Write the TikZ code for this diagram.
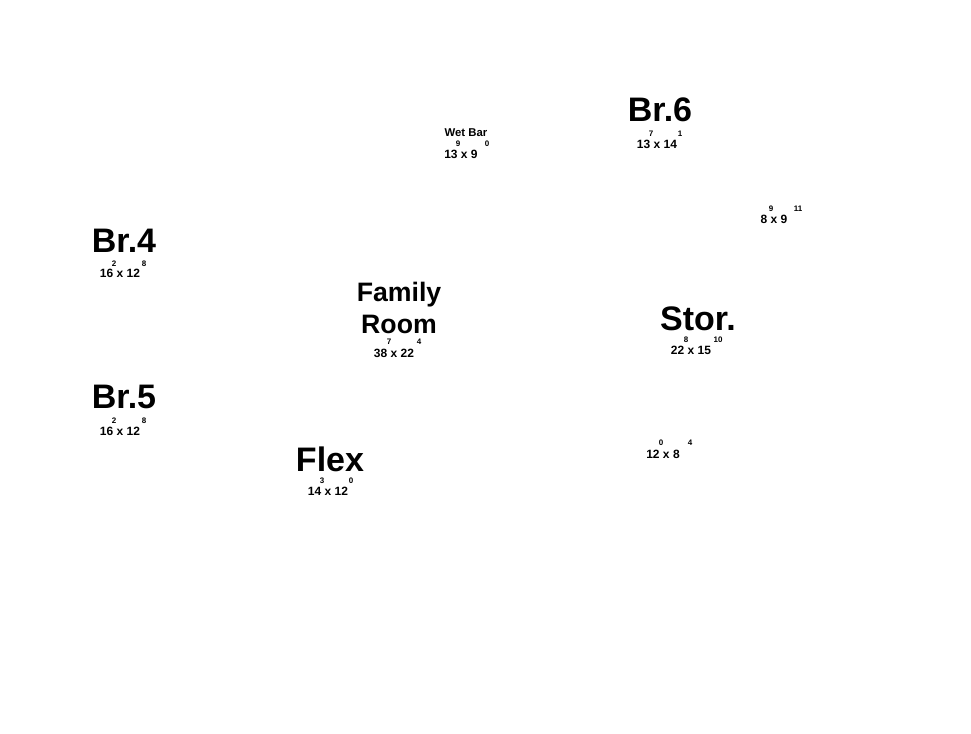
\documentclass[tikz,border=0pt]{standalone}
\usepackage{fontspec}
\setmainfont{Liberation Sans}
\begin{document}
\begin{tikzpicture}[x=0.75pt, y=-0.75pt,
    room/.style={font=\bfseries\fontsize{25.5}{28}\selectfont, inner sep=0pt},
    roombig/.style={font=\bfseries\fontsize{20}{24}\selectfont, inner sep=0pt, anchor=base},
    label/.style={font=\bfseries\fontsize{8.5}{10}\selectfont, inner sep=0pt},
    dim/.style={font=\bfseries\fontsize{9}{10}\selectfont, inner sep=0pt},
    sup/.style={font=\bfseries\fontsize{6}{7}\selectfont, inner sep=0pt}]
    \useasboundingbox (0,0) rectangle (971,734);

    % Wet bar
    \node[label] (wetbar) at (466,133) {Wet Bar};
    \node[dim] (wetbarD) at (461,154) {13 x 9};
    \node[sup] (wetbarA) at (458,144) {9};
    \node[sup] (wetbarB) at (487,144) {0};

    % Br.6
    \node[room] (br6) at (660,110) {Br.6};
    \node[dim] (br6D) at (657,144) {13 x 14};
    \node[sup] (br6A) at (651,134) {7};
    \node[sup] (br6B) at (680,134) {1};

    % closet
    \node[dim] (closetD) at (774,219) {8 x 9};
    \node[sup] (closetA) at (771,209) {9};
    \node[sup] (closetB) at (798,209) {11};

    % Br.4
    \node[room] (br4) at (124,241) {Br.4};
    \node[dim] (br4D) at (120,273) {16 x 12};
    \node[sup] (br4A) at (114,264) {2};
    \node[sup] (br4B) at (144,264) {8};

    % Family room
    \node[roombig] (family) at (399,301) {Family};
    \node[roombig] (famroom) at (399,334) {Room};
    \node[dim] (familyD) at (394,353) {38 x 22};
    \node[sup] (familyA) at (389,342) {7};
    \node[sup] (familyB) at (419,342) {4};

    % Stor.
    \node[room] (stor) at (698,319) {Stor.};
    \node[dim] (storD) at (691,350) {22 x 15};
    \node[sup] (storA) at (686,340) {8};
    \node[sup] (storB) at (718,340) {10};

    % Br.5
    \node[room] (br5) at (124,397) {Br.5};
    \node[dim] (br5D) at (120,431) {16 x 12};
    \node[sup] (br5A) at (114,421) {2};
    \node[sup] (br5B) at (144,421) {8};

    % Flex
    \node[room] (flex) at (330,459) {Flex};
    \node[dim] (flexD) at (328,491) {14 x 12};
    \node[sup] (flexA) at (322,481) {3};
    \node[sup] (flexB) at (351,481) {0};

    % bath
    \node[dim] (bathD) at (663,454) {12 x 8};
    \node[sup] (bathA) at (661,443) {0};
    \node[sup] (bathB) at (690,443) {4};
\end{tikzpicture}
\end{document}
